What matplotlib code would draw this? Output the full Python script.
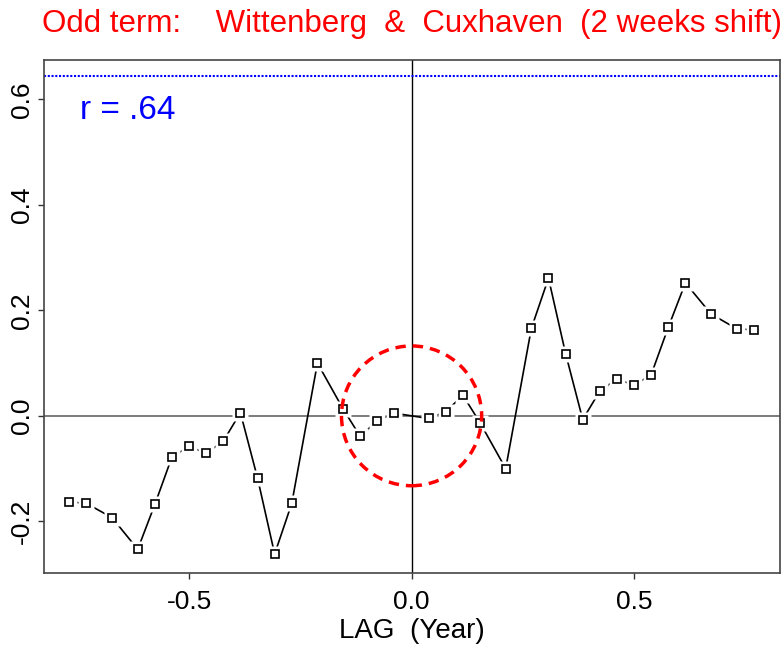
import numpy as np
import matplotlib
matplotlib.use("Agg")
import matplotlib.pyplot as plt
from matplotlib.patches import Ellipse

# lag in weeks (2-week steps), converted to years below
lag_weeks = [-40, -38, -35, -32, -30, -28, -26, -24, -22, -20, -18, -16, -14,
             -11, -8, -6, -4, -2, 2, 4, 6, 8, 11, 14, 16, 18, 20, 22, 24, 26,
             28, 30, 32, 35, 38, 40]
corr = [-0.163, -0.166, -0.193, -0.253, -0.168, -0.078, -0.058, -0.071, -0.048,
        0.006, -0.118, -0.262, -0.166, 0.100, 0.013, -0.039, -0.009, 0.005,
        -0.005, 0.008, 0.039, -0.013, -0.100, 0.166, 0.261, 0.118, -0.007,
        0.047, 0.070, 0.058, 0.078, 0.168, 0.252, 0.193, 0.165, 0.163]
r_value = 0.645
x_ticks = [-0.5, 0.0, 0.5]
y_ticks = [-0.2, 0.0, 0.2, 0.4, 0.6]

plt.rcParams["font.family"] = ["Liberation Sans", "DejaVu Sans"]

lag = np.array(lag_weeks) / 52.0

fig = plt.figure(figsize=(7.83, 6.48), dpi=100)
ax = fig.add_axes([0.0562, 0.1157, 0.94, 0.7917])

ax.axhline(0, color="#666666", lw=1.2, zorder=1)
ax.axvline(0, color="black", lw=1.0, zorder=1)
ax.axhline(r_value, color="blue", lw=1.5, ls=(0, (1, 0.8)), zorder=1)

ax.plot(lag, corr, color="black", lw=1.2, zorder=2)
ax.plot(lag, corr, ls="none", marker="s", ms=11, mfc="white", mec="none", zorder=3)
ax.plot(lag, corr, ls="none", marker="s", ms=6, mfc="white", mec="black", mew=1.2, zorder=4)

ax.add_patch(Ellipse((0, 0), 0.315, 0.265, fill=False, ec="red", lw=2.5,
                     ls=(0, (3, 2)), zorder=5))

ax.text(-0.745, 0.563, "r = .64", color="blue", fontsize=24, va="baseline", ha="left")

ax.set_xlim(-0.826, 0.828)
ax.set_ylim(-0.298, 0.6746)
ax.set_xticks(x_ticks)
ax.set_xticklabels(["-0.5", "0.0", "0.5"])
ax.set_yticks(y_ticks)
ax.set_yticklabels(["-0.2", "0.0", "0.2", "0.4", "0.6"], rotation=90, va="center")
ax.tick_params(labelsize=19, length=4, width=1, color="#333333")
ax.tick_params(axis="x", pad=8)
ax.tick_params(axis="y", pad=3)
for s in ax.spines.values():
    s.set_color("#444444")
    s.set_linewidth(1.2)

ax.set_xlabel("LAG  (Year)", fontsize=20, labelpad=3)
fig.text(0.526, 0.963, "Odd term:    Wittenberg  &  Cuxhaven  (2 weeks shift)",
         color="red", fontsize=22.5, ha="center", va="center")

fig.savefig("out.png", dpi=100)
